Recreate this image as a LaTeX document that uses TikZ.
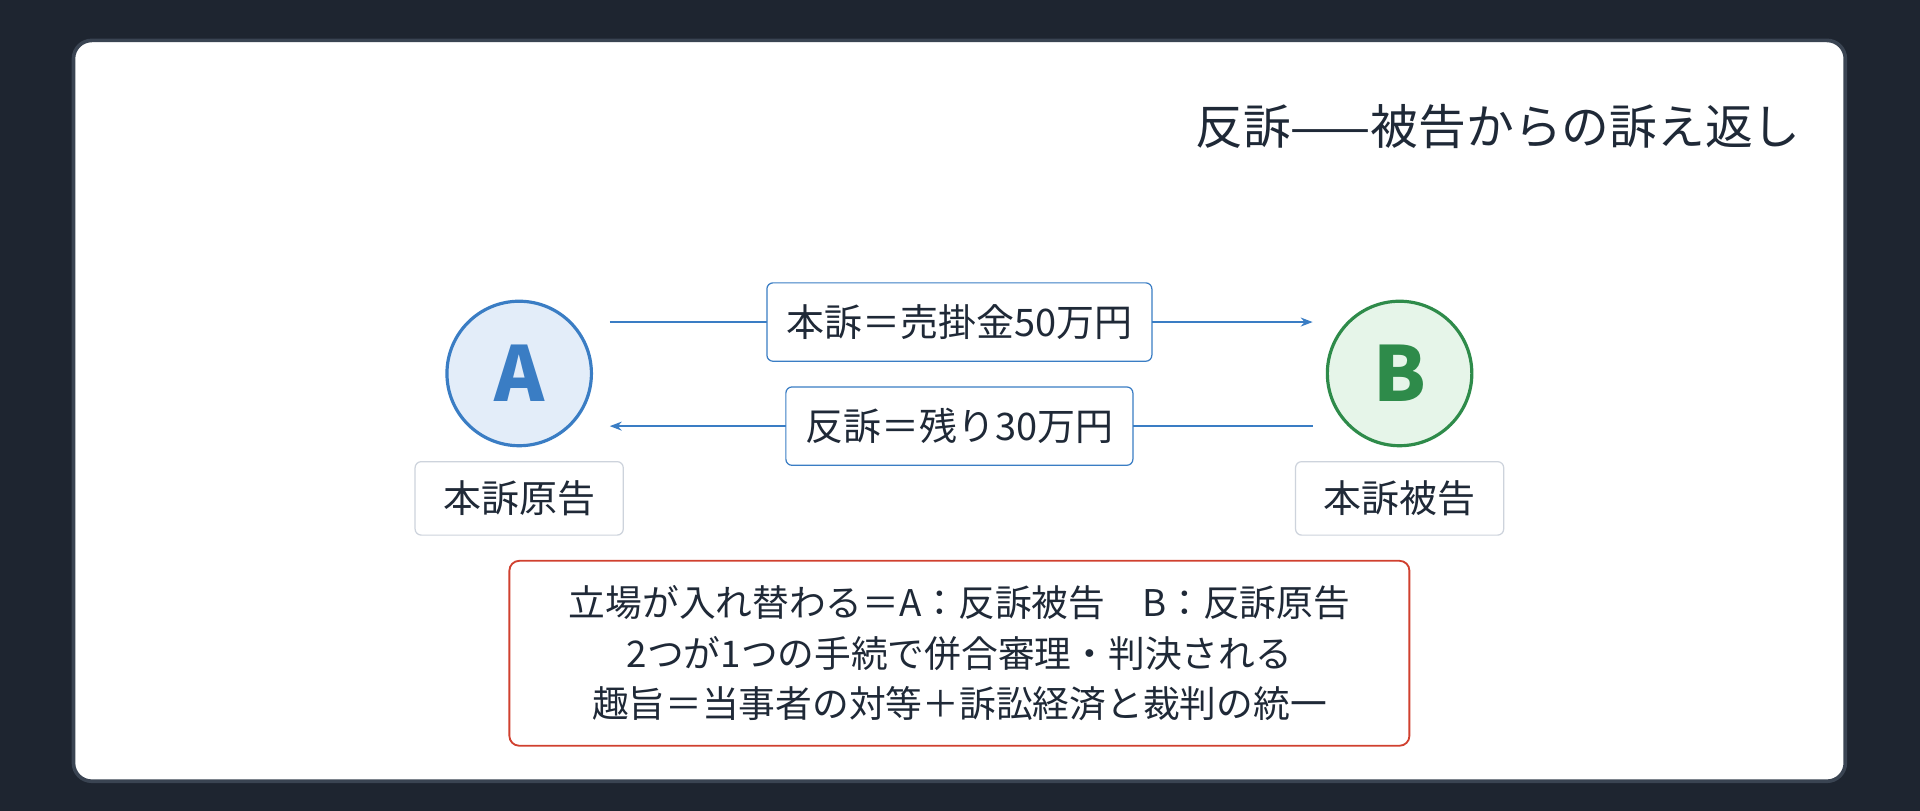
\documentclass[tikz,border=0pt]{standalone}
\usepackage{fontspec}
\setmainfont{Noto Sans CJK JP}
\usetikzlibrary{arrows.meta,positioning}
\definecolor{bgdark}{HTML}{1E2530}
\definecolor{cardline}{HTML}{3A4452}
\definecolor{inkdark}{HTML}{1F2937}
\definecolor{blueline}{HTML}{3A7DC4}
\definecolor{bluefill}{HTML}{E3EDF9}
\definecolor{greenline}{HTML}{2E8B4A}
\definecolor{greenfill}{HTML}{E6F5E9}
\definecolor{redline}{HTML}{D0402F}
\definecolor{grayline}{HTML}{CDD3DC}

\begin{document}
\begin{tikzpicture}[x=1pt,y=-1pt,>=Stealth,
    party/.style={circle,line width=2.6pt,minimum size=118pt,inner sep=0pt,font=\fontsize{62}{62}\selectfont\bfseries},
    role/.style={draw=grayline,line width=1pt,rounded corners=5pt,fill=white,minimum width=170pt,minimum height=60pt,font=\fontsize{31}{31}\selectfont,text=inkdark},
    claim/.style={draw=blueline,line width=1pt,rounded corners=5pt,fill=white,minimum height=64pt,inner xsep=16pt,font=\fontsize{31}{31}\selectfont,text=inkdark},
    flow/.style={->,blueline,line width=1.5pt}]

  \fill[bgdark] (0,0) rectangle (1568,662);
  \useasboundingbox (0,0) rectangle (1568,662);
  \draw[cardline,line width=3pt,fill=white,rounded corners=15pt] (60,33) rectangle (1507,638);

  \node[anchor=east,font=\fontsize{39}{39}\selectfont,text=inkdark] (title) at (1474,103) {反訴——被告からの訴え返し};

  \node[party,draw=blueline,fill=bluefill,text=blueline] (A) at (424,305) {A};
  \node[party,draw=greenline,fill=greenfill,text=greenline] (B) at (1143,305) {B};
  \node[role] (roleA) at (424,407) {本訴原告};
  \node[role] (roleB) at (1143,407) {本訴被告};

  \coordinate (a1) at (498,263);
  \coordinate (b1) at (1072,263);
  \coordinate (a2) at (498,348);
  \coordinate (b2) at (1072,348);
  \draw[flow] (a1) -- (b1);
  \draw[flow] (b2) -- (a2);
  \node[claim] (main) at (783.5,263) {本訴＝売掛金50万円};
  \node[claim] (counter) at (783.5,348) {反訴＝残り30万円};

  \node[draw=redline,line width=1.5pt,rounded corners=8pt,fill=white,minimum width=735pt,minimum height=151pt,
        align=center,font=\fontsize{30}{41}\selectfont,text=inkdark] (note) at (783.5,533.5)
    {立場が入れ替わる＝A：反訴被告\quad B：反訴原告\\2つが1つの手続で併合審理・判決される\\趣旨＝当事者の対等＋訴訟経済と裁判の統一};
\end{tikzpicture}
\end{document}
